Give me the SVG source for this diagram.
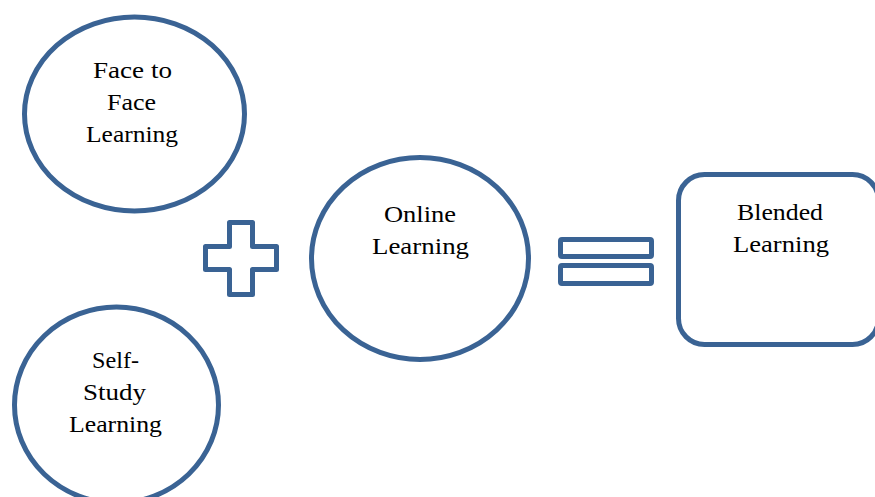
<svg xmlns="http://www.w3.org/2000/svg" width="875" height="497" viewBox="0 0 875 497">
<style>
.s{fill:#fff;stroke:#3A6394;stroke-width:5}
.t{font-family:"Liberation Serif","Times New Roman",serif;font-size:23px;fill:#000;text-anchor:middle}
</style>
<rect width="875" height="497" fill="#fff"/>
<g id="face">
<ellipse class="s" cx="134.5" cy="114" rx="110" ry="97"/>
<text class="t" x="132.5" y="78" textLength="79" lengthAdjust="spacingAndGlyphs">Face to</text>
<text class="t" x="131.5" y="110" textLength="49" lengthAdjust="spacingAndGlyphs">Face</text>
<text class="t" x="132" y="142" textLength="92" lengthAdjust="spacingAndGlyphs">Learning</text>
</g>
<g id="self">
<ellipse class="s" cx="116.5" cy="405" rx="102" ry="98"/>
<text class="t" x="115.5" y="368" textLength="47" lengthAdjust="spacingAndGlyphs">Self-</text>
<text class="t" x="114.5" y="400" textLength="63" lengthAdjust="spacingAndGlyphs">Study</text>
<text class="t" x="115.5" y="432" textLength="93" lengthAdjust="spacingAndGlyphs">Learning</text>
</g>
<g id="online">
<ellipse class="s" cx="420" cy="258.5" rx="108.5" ry="101"/>
<text class="t" x="420" y="222" textLength="72" lengthAdjust="spacingAndGlyphs">Online</text>
<text class="t" x="420.5" y="254" textLength="97" lengthAdjust="spacingAndGlyphs">Learning</text>
</g>
<g id="blended">
<rect class="s" x="678.5" y="174.5" width="200" height="170" rx="26"/>
<text class="t" x="780" y="220" textLength="86" lengthAdjust="spacingAndGlyphs">Blended</text>
<text class="t" x="781" y="252" textLength="96" lengthAdjust="spacingAndGlyphs">Learning</text>
</g>
<g id="connectors">
<path id="plus" class="s" stroke-linejoin="round" d="M229.5,222.5 H252.5 V246.5 H276.5 V269.5 H252.5 V294.5 H229.5 V269.5 H205.5 V246.5 H229.5 Z"/>
<g id="equals">
<rect class="s" x="560.5" y="239.5" width="91" height="17" rx="1.5"/>
<rect class="s" x="560.5" y="265.5" width="91" height="18" rx="1.5"/>
</g>
</g>
</svg>
